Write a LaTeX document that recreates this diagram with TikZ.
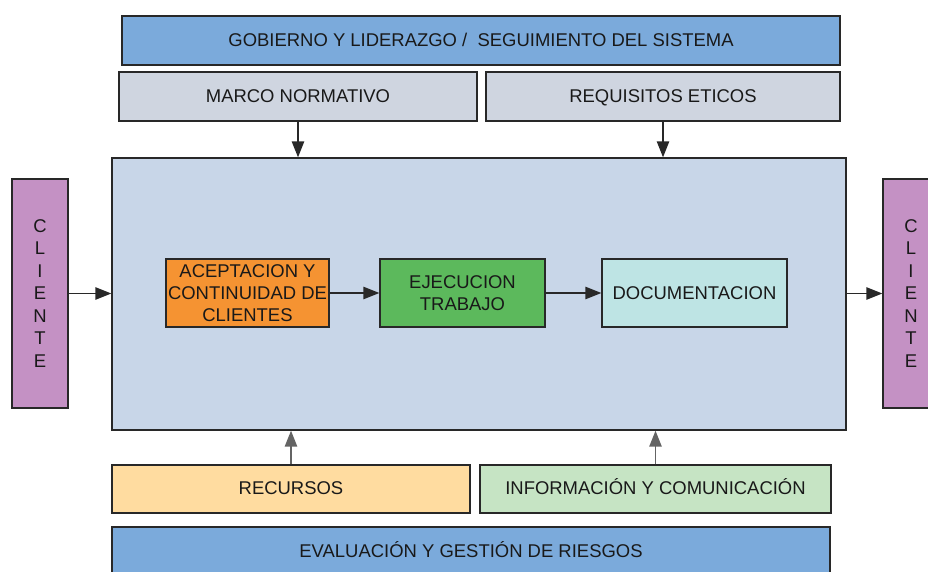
\documentclass[tikz,border=0pt]{standalone}
\usepackage{fontspec}
\setmainfont{Liberation Sans}
\definecolor{FrameColor}{RGB}{40,40,40}
\definecolor{BarColor}{RGB}{123,170,219}
\definecolor{InputColor}{RGB}{207,213,224}
\definecolor{ProcessColor}{RGB}{200,214,232}
\definecolor{ClientColor}{RGB}{196,145,196}
\definecolor{AcceptColor}{RGB}{245,147,50}
\definecolor{WorkColor}{RGB}{92,185,92}
\definecolor{DocColor}{RGB}{190,228,228}
\definecolor{ResourceColor}{RGB}{255,220,160}
\definecolor{InfoColor}{RGB}{198,228,196}
\definecolor{SupportArrow}{RGB}{100,100,100}
\usepackage{tikz}
\usetikzlibrary{positioning, arrows.meta, calc}
\tikzstyle{flow} = [line width=0.7pt, FrameColor, -{Triangle[length=9pt,width=7pt]}]
\tikzstyle{support} = [line width=0.7pt, SupportArrow, -{Triangle[length=9pt,width=7pt]}]
\tikzset{
  box/.style={rectangle, draw=FrameColor, line width=0.8pt, font=\fontsize{10.5}{12.5}\selectfont, text=black!90, align=center, inner sep=0pt},
  bar/.style={box, fill=BarColor, minimum width=14.36cm, minimum height=0.98cm, text height=1.6ex, text depth=0.4ex},
  input/.style={box, fill=InputColor, minimum height=0.98cm, text height=1.6ex, text depth=0.4ex},
  client/.style={box, fill=ClientColor, minimum width=1.12cm, minimum height=4.58cm, font=\fontsize{10.5}{12.8}\selectfont},
  stage/.style={box, minimum height=1.36cm}
}

\begin{document}
\begin{tikzpicture}
                \useasboundingbox (0,0) rectangle (18.56,-11.44);

                % Governance bar
                \node[bar] (gob) at (9.62,-0.81) {GOBIERNO Y LIDERAZGO /\ \ SEGUIMIENTO DEL SISTEMA};

                % Inputs from above
                \node[input, minimum width=7.16cm] (marco) at (5.96,-1.93) {MARCO NORMATIVO};
                \node[input, minimum width=7.08cm] (req) at (13.26,-1.93) {REQUISITOS ETICOS};

                % Process frame
                \node[box, fill=ProcessColor, minimum width=14.68cm, minimum height=5.44cm] (main) at (9.58,-5.88) {};

                % Clients
                \node[client] (cliL) at (0.8,-5.87) {C\\L\\I\\E\\N\\T\\E};
                \node[client] (cliR) at (18.22,-5.87) {C\\L\\I\\E\\N\\T\\E};

                % Stages
                \node[stage, fill=AcceptColor, minimum width=3.26cm] (acep) at (4.95,-5.86) {ACEPTACION Y\\CONTINUIDAD DE\\CLIENTES};
                \node[stage, fill=WorkColor, minimum width=3.3cm] (ejec) at (9.25,-5.86) {EJECUCION\\TRABAJO};
                \node[stage, fill=DocColor, minimum width=3.7cm] (doc) at (13.89,-5.86) {DOCUMENTACION};

                % Supports from below
                \node[input, fill=ResourceColor, minimum width=7.16cm, minimum height=0.96cm] (rec) at (5.82,-9.78) {RECURSOS};
                \node[input, fill=InfoColor, minimum width=7.02cm, minimum height=0.96cm] (info) at (13.11,-9.78) {INFORMACIÓN Y COMUNICACIÓN};

                % Risk bar
                \node[bar] (eval) at (9.42,-11.03) {EVALUACIÓN Y GESTIÓN DE RIESGOS};

                % Arrows
                \draw[flow] (marco.south) -- (marco.south |- main.north);
                \draw[flow] (req.south) -- (req.south |- main.north);
                \draw[flow] (cliL.east) -- (cliL.east -| main.west);
                \draw[flow] (main.east |- cliR.west) -- (cliR.west);
                \draw[flow] (acep) -- (ejec);
                \draw[flow] (ejec) -- (doc);
                \draw[support] (rec.north) -- (rec.north |- main.south);
                \draw[support] (info.north) -- (info.north |- main.south);
            \end{tikzpicture}
\end{document}
